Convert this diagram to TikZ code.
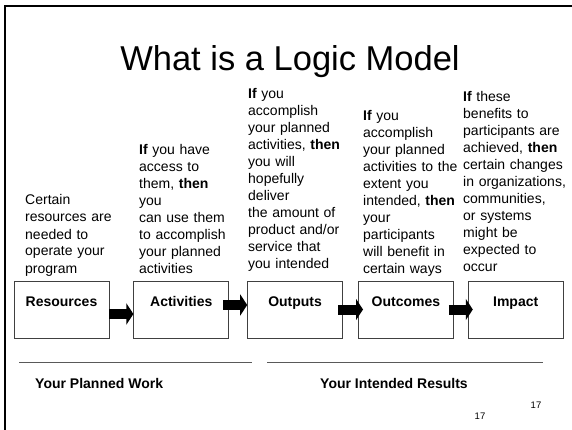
\documentclass[tikz,border=0pt]{standalone}
\usepackage{fontspec}
\setmainfont{Liberation Sans}
\usetikzlibrary{positioning,arrows.meta}

\begin{document}
\begin{tikzpicture}[x=1pt,y=-1pt,
	box/.style={draw=black!75,line width=0.8pt,minimum width=95pt,minimum height=57pt,inner sep=0pt,
		label={[anchor=base,yshift=-26pt,inner sep=0pt,font=\fontsize{14}{17}\selectfont\bfseries]north:#1}},
	blurb/.style={anchor=base west,inner sep=0pt,text width=120pt,align=left,
		font=\fontsize{14}{17}\selectfont},
	block/.style={line width=10pt,-{Triangle[length=7pt,width=21pt]}},
	heading/.style={anchor=base west,inner sep=0pt,font=\fontsize{14}{17}\selectfont\bfseries}]
	\useasboundingbox (0,0) rectangle (572,430);
	
	% slide frame
	\draw[line width=2pt] (4.5,430) -- (4.5,6) -- (572,6);
	
	\node[anchor=base,inner sep=0pt,font=\fontsize{34.5}{40}\selectfont] (title) at (290,71) {What is a Logic Model};
	
	\node[box=Resources] (res) at (61.5,309.5) {};
	\node[box=Activities] (act) [right=24pt of res] {};
	\node[box=Outputs] (out) [right=18pt of act] {};
	\node[box=Outcomes] (outc) [right=15pt of out] {};
	\node[box=Impact] (imp) [right=14pt of outc] {};
	
	\node[blurb] (restext) at (25,205) {Certain\\resources are\\needed to\\operate your\\program};
	\node[blurb] (acttext) at (139,155) {\textbf{If} you have\\access to\\them, \textbf{then}\\you\\can use them\\to accomplish\\your planned\\activities};
	\node[blurb] (outtext) at (248,99) {\textbf{If} you\\accomplish\\your planned\\activities, \textbf{then}\\you will\\hopefully\\deliver\\the amount of\\product and/or\\service that\\you intended};
	\node[blurb] (outctext) at (363,121) {\textbf{If} you\\accomplish\\your planned\\activities to the\\extent you\\intended, \textbf{then}\\your\\participants\\will benefit in\\certain ways};
	\node[blurb] (imptext) at (463,102) {\textbf{If} these\\benefits to\\participants are\\achieved, \textbf{then}\\certain changes\\in organizations,\\communities,\\or systems\\might be\\expected to\\occur};
	
	\draw[block] ([yshift=-4.5pt]res.east) -- ([yshift=-4.5pt]act.west);
	\draw[block] ([xshift=-6pt,yshift=4.5pt]act.east) -- ([yshift=4.5pt]out.west);
	\draw[block] ([xshift=-5pt]out.east) -- ([xshift=5pt]outc.west);
	\draw[block] ([xshift=-5pt]outc.east) -- ([xshift=5pt]imp.west);
	
	% dividers and footer
	\draw[black!65,line width=1pt] (19,362) -- (252,362);
	\draw[black!65,line width=1pt] (267,362) -- (543,362);
	\node[heading] (planned) at (35,388) {Your Planned Work};
	\node[heading] (intended) at (320,388) {Your Intended Results};
	\node[font=\fontsize{9.5}{11}\selectfont,inner sep=0pt] (pgone) at (536,405) {17};
	\node[font=\fontsize{9.5}{11}\selectfont,inner sep=0pt] (pgtwo) at (480,416) {17};
\end{tikzpicture}
\end{document}
